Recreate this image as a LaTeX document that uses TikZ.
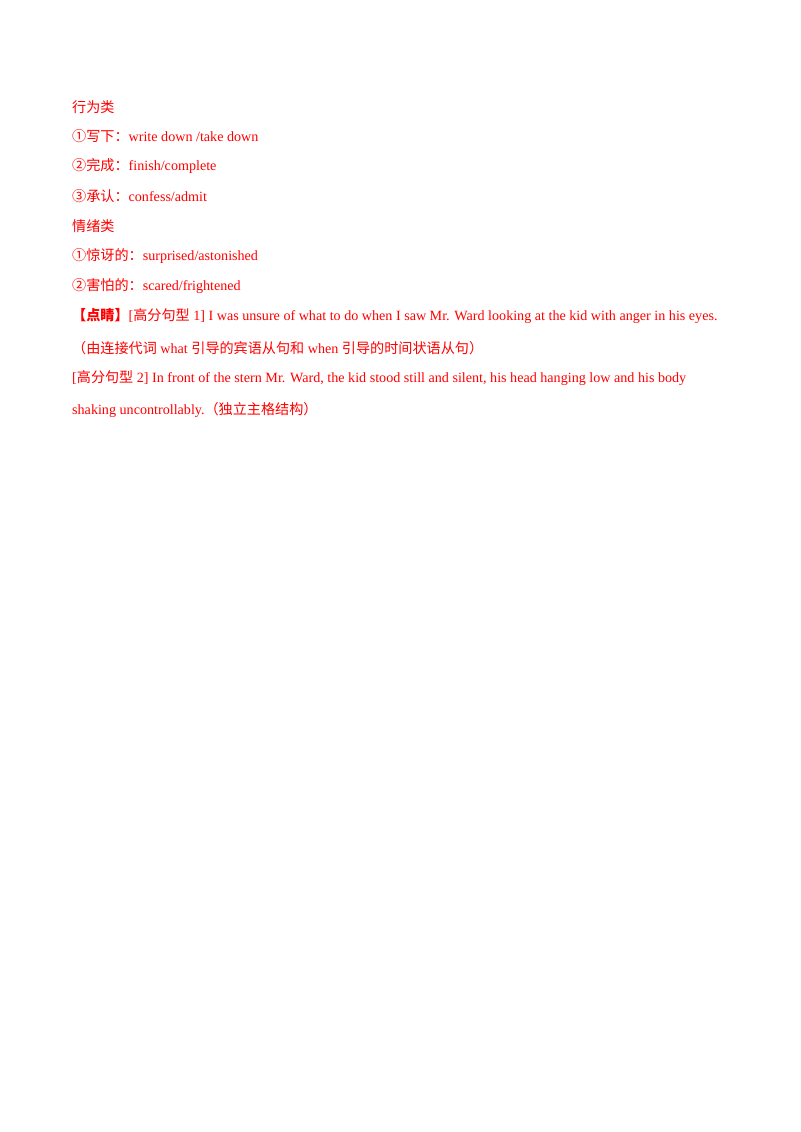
\documentclass[tikz,border=0pt]{standalone}
\usepackage{fontspec}
\setmainfont{Liberation Serif}
\newfontfamily\cjk{Noto Sans CJK SC}
\begin{document}
\begin{tikzpicture}[x=1pt,y=-1pt,
  ln/.style={anchor=west,inner sep=0pt,text=red,font=\fontsize{10.5}{12}\selectfont}]
\useasboundingbox (0,0) rectangle (595.3,842);
\node[ln] (l1) at (53.5,79.6) {\cjk 行为类};
\node[ln] (l2) at (53.5,101.1) {{\cjk ①写下：}write down /take down};
\node[ln] (l3) at (53.5,123.4) {{\cjk ②完成：}finish/complete};
\node[ln] (l4) at (53.5,145.7) {{\cjk ③承认：}confess/admit};
\node[ln] (l5) at (53.5,168) {\cjk 情绪类};
\node[ln] (l6) at (53.5,190.3) {{\cjk ①惊讶的：}surprised/astonished};
\node[ln] (l7) at (53.5,212.6) {{\cjk ②害怕的：}scared/frightened};
\node[ln] (l8) at (53.5,235) {{\cjk\bfseries 【点睛】}[{\cjk 高分句型} 1] I was unsure of what to do when I saw Mr. Ward looking at the kid with anger in his eyes.};
\node[ln] (l9) at (53.5,258.7) {{\cjk （由连接代词} what {\cjk 引导的宾语从句和} when {\cjk 引导的时间状语从句）}};
\node[ln] (l10) at (53.5,281) {[{\cjk 高分句型} 2] In front of the stern Mr. Ward, the kid stood still and silent, his head hanging low and his body};
\node[ln] (l11) at (53.5,304.8) {shaking uncontrollably.{\cjk （独立主格结构）}};
\end{tikzpicture}
\end{document}
